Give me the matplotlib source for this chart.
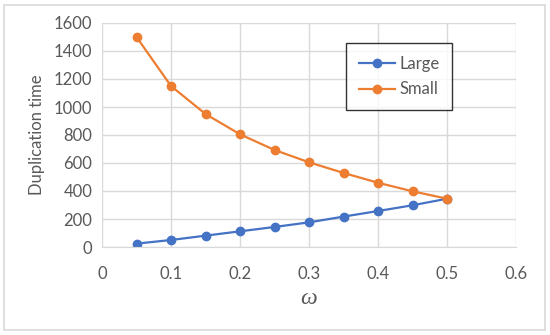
import matplotlib
matplotlib.use("Agg")
from matplotlib import pyplot as plt
from matplotlib.patches import Rectangle

omega = [0.05, 0.1, 0.15, 0.2, 0.25, 0.3, 0.35, 0.4, 0.45, 0.5]
large = [24, 50, 81, 112, 143, 176, 217, 257, 298, 345]
small = [1500, 1150, 950, 805, 693, 605, 529, 459, 398, 345]
xticks = [0, 0.1, 0.2, 0.3, 0.4, 0.5, 0.6]
yticks = [0, 200, 400, 600, 800, 1000, 1200, 1400, 1600]

plt.rcParams['font.family'] = ['Lato', 'DejaVu Sans']
textColor = '#595959'
gridColor = '#d9d9d9'

fig = plt.figure(figsize=(5.5, 3.35), dpi=100)
ax = fig.add_axes([102 / 550, 1 - 247 / 335, 414 / 550, 224 / 335])

# light frame round the whole chart, as in the Excel export
fig.patches.append(Rectangle((4 / 550, 5 / 335), 541 / 550, 325 / 335,
                             transform=fig.transFigure, fill=False,
                             edgecolor=gridColor, linewidth=1.2))

ax.plot(omega, large, color='#4472C4', marker='o', markersize=6, linewidth=1.6, label='Large')
ax.plot(omega, small, color='#ED7D31', marker='o', markersize=6, linewidth=1.6, label='Small')

ax.set_xlim(0, 0.6)
ax.set_ylim(0, 1600)
ax.set_xticks(xticks)
ax.set_xticklabels(['0' if t == 0 else f'{t:g}' for t in xticks])
ax.set_yticks(yticks)
ax.grid(True, color=gridColor, linewidth=1)
ax.set_axisbelow(True)
for side in ['top', 'right', 'left']:
  ax.spines[side].set_visible(False)
ax.spines['bottom'].set_color(gridColor)
ax.tick_params(length=0, labelsize=12, colors=textColor, pad=7)
ax.tick_params(axis='x', pad=14)

ax.set_ylabel('Duplication time', fontsize=12, color=textColor, labelpad=6)
ax.set_xlabel('ω', fontsize=17, color=textColor, labelpad=4,
              fontfamily='Liberation Serif', fontstyle='italic')

leg = ax.legend(loc='upper left', bbox_to_anchor=(244 / 414, 1 - 20 / 224),
                fontsize=12, frameon=True, fancybox=False, borderpad=0.75,
                handlelength=2.2, handletextpad=0.25, labelspacing=0.6,
                borderaxespad=0)
leg.get_frame().set_edgecolor('black')
leg.get_frame().set_linewidth(1)
for t in leg.get_texts():
  t.set_color(textColor)

fig.savefig('out.png', dpi=100)
